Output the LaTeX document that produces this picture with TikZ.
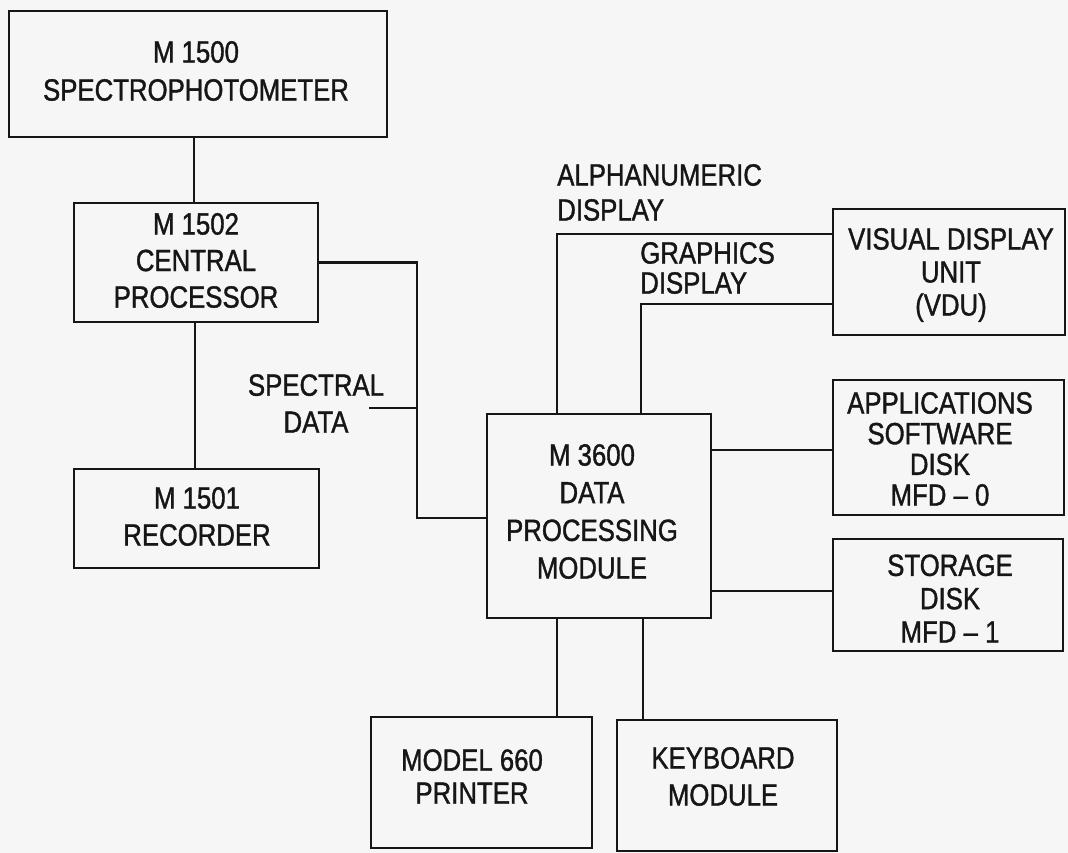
\documentclass[tikz,border=0pt]{standalone}
\usepackage{fontspec}
\setmainfont{Liberation Sans}[FakeStretch=0.84,FakeBold=1.2]
\usetikzlibrary{fit,calc}
\definecolor{bg}{RGB}{246,246,246}
\definecolor{ink}{RGB}{22,22,22}
\begin{document}
\begin{tikzpicture}[x=0.75pt,y=-0.75pt,
  box/.style={draw=ink, line width=1.7pt, inner sep=0pt},
  conn/.style={draw=ink, line width=1.7pt},
  txt/.style={text=ink, align=center, inner sep=0pt, font=\fontsize{23}{#1}\selectfont},
  txt/.default=27.75pt,
  lbl/.style={txt=#1, align=left, anchor=west}]
\useasboundingbox (0,0) rectangle (1068,853);
\fill[bg] (0,0) rectangle (1068,853);

% boxes
\node[box, fit={(9,11) (387,137)}] (b1500) {};
\node[box, fit={(74,203) (318,322)}] (b1502) {};
\node[box, fit={(74,469) (319,568)}] (b1501) {};
\node[box, fit={(487,414) (711,618)}] (b3600) {};
\node[box, fit={(833,209) (1065,335)}] (vdu) {};
\node[box, fit={(833,380) (1064,515)}] (app) {};
\node[box, fit={(833,539) (1063,651)}] (stor) {};
\node[box, fit={(371,717) (592,848)}] (prn) {};
\node[box, fit={(617,720) (837,851)}] (kbd) {};

% box texts
\node[txt=28.5pt] (b1500-t) at (196,71) {M 1500\\SPECTROPHOTOMETER};
\node[txt=27.4pt] (b1502-t) at (196,260.5) {M 1502\\CENTRAL\\PROCESSOR};
\node[txt=27.75pt] (b1501-t) at (197,516.5) {M 1501\\RECORDER};
\node[txt=28.25pt] (b3600-t) at (592,511.5) {M 3600\\DATA\\PROCESSING\\MODULE};
\node[txt=24.75pt] (vdu-t) at (951,275) {VISUAL DISPLAY\\UNIT\\(VDU)};
\node[txt=23pt] (app-t) at (940,449) {APPLICATIONS\\SOFTWARE\\DISK\\MFD -- 0};
\node[txt=25pt] (stor-t) at (950,598.5) {STORAGE\\DISK\\MFD -- 1};
\node[txt=24.75pt] (prn-t) at (472,776.5) {MODEL 660\\PRINTER};
\node[txt=27.75pt] (kbd-t) at (723,776.5) {KEYBOARD\\MODULE};

% connector labels
\node[txt=27.75pt] (spec-t) at (316,403.5) {SPECTRAL\\DATA};
\node[lbl=26.25pt] (alpha-t) at (557,192.5) {ALPHANUMERIC\\DISPLAY};
\node[lbl=22.5pt] (graph-t) at (640,268) {GRAPHICS\\DISPLAY};

% guide coordinates
\coordinate (xa) at (194,0);
\coordinate (xb) at (195,0);
\coordinate (sx) at (417,518);
\coordinate (sd) at (369,408);
\coordinate (ax) at (557,234);
\coordinate (gx) at (641,304);
\coordinate (ay) at (0,450);
\coordinate (sy) at (0,591);
\coordinate (px) at (557,0);
\coordinate (kx) at (643,0);

% connectors
\draw[conn] (b1500.south -| xa) -- (b1502.north -| xa);
\draw[conn] (b1502.south -| xb) -- (b1501.north -| xb);
\draw[conn] (b1502.east) -| (sx) -- (sx -| b3600.west);
\draw[conn] (sd) -- (sd -| sx);
\draw[conn] (b3600.north -| ax) |- (ax -| vdu.west);
\draw[conn] (b3600.north -| gx) |- (gx -| vdu.west);
\draw[conn] (b3600.east |- ay) -- (app.west |- ay);
\draw[conn] (b3600.east |- sy) -- (stor.west |- sy);
\draw[conn] (b3600.south -| px) -- (prn.north -| px);
\draw[conn] (b3600.south -| kx) -- (kbd.north -| kx);
\end{tikzpicture}
\end{document}
